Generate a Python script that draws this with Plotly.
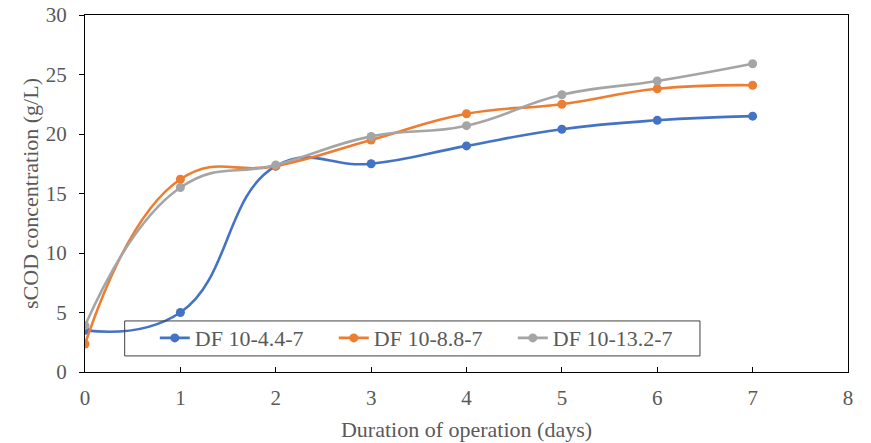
import plotly.graph_objects as go

days = [0, 1, 2, 3, 4, 5, 6, 7]
df_4_4 = [3.5, 5.0, 17.3, 17.5, 19.0, 20.4, 21.15, 21.5]
df_8_8 = [2.35, 16.2, 17.3, 19.5, 21.7, 22.5, 23.8, 24.1]
df_13_2 = [3.9, 15.5, 17.4, 19.8, 20.7, 23.3, 24.45, 25.9]

names = ["DF 10-4.4-7", "DF 10-8.8-7", "DF 10-13.2-7"]
colors = ["#4472C4", "#ED7D31", "#A5A5A5"]
series = [df_4_4, df_8_8, df_13_2]

FONT = "Liberation Serif, Times New Roman, serif"
GREY = "#595959"

fig = go.Figure()
for name, color, vals in zip(names, colors, series):
    fig.add_trace(go.Scatter(
        x=days, y=vals, name=name, mode="lines+markers",
        line=dict(color=color, width=2.6, shape="spline", smoothing=1.3),
        marker=dict(color=color, size=9),
    ))

# legend frame
fig.add_shape(type="rect", xref="paper", yref="paper",
              x0=0.052, x1=0.806, y0=0.045, y1=0.143,
              line=dict(color="#404040", width=1), fillcolor="rgba(0,0,0,0)")

fig.update_layout(
    width=871, height=443,
    margin=dict(l=85, r=23, t=15, b=71),
    paper_bgcolor="white", plot_bgcolor="white",
    font=dict(family=FONT, size=21, color=GREY),
    showlegend=True,
    legend=dict(orientation="h", x=0.0915, y=0.095, xanchor="left", yanchor="middle",
                bgcolor="rgba(0,0,0,0)", borderwidth=0,
                entrywidth=134, entrywidthmode="pixels",
                font=dict(family=FONT, size=22, color=GREY)),
    xaxis=dict(range=[0, 8], dtick=1, tick0=0, showgrid=False, zeroline=False,
               showline=True, linecolor="black", linewidth=1.3, mirror=True,
               ticks="inside", ticklen=5, tickcolor="black", ticklabelstandoff=7,
               automargin=False,
               tickfont=dict(family=FONT, size=21, color=GREY),
               title=dict(text="Duration of operation (days)",
                          font=dict(family=FONT, size=22, color=GREY), standoff=12)),
    yaxis=dict(range=[0, 30], dtick=5, tick0=0, showgrid=False, zeroline=False,
               showline=True, linecolor="black", linewidth=1.3, mirror=True,
               ticks="outside", ticklen=5, tickcolor="black", ticklabelstandoff=8,
               automargin=False,
               tickfont=dict(family=FONT, size=21, color=GREY),
               title=dict(text="sCOD concentration (g/L)",
                          font=dict(family=FONT, size=22, color=GREY), standoff=0)),
)

fig.write_html("out.html")
